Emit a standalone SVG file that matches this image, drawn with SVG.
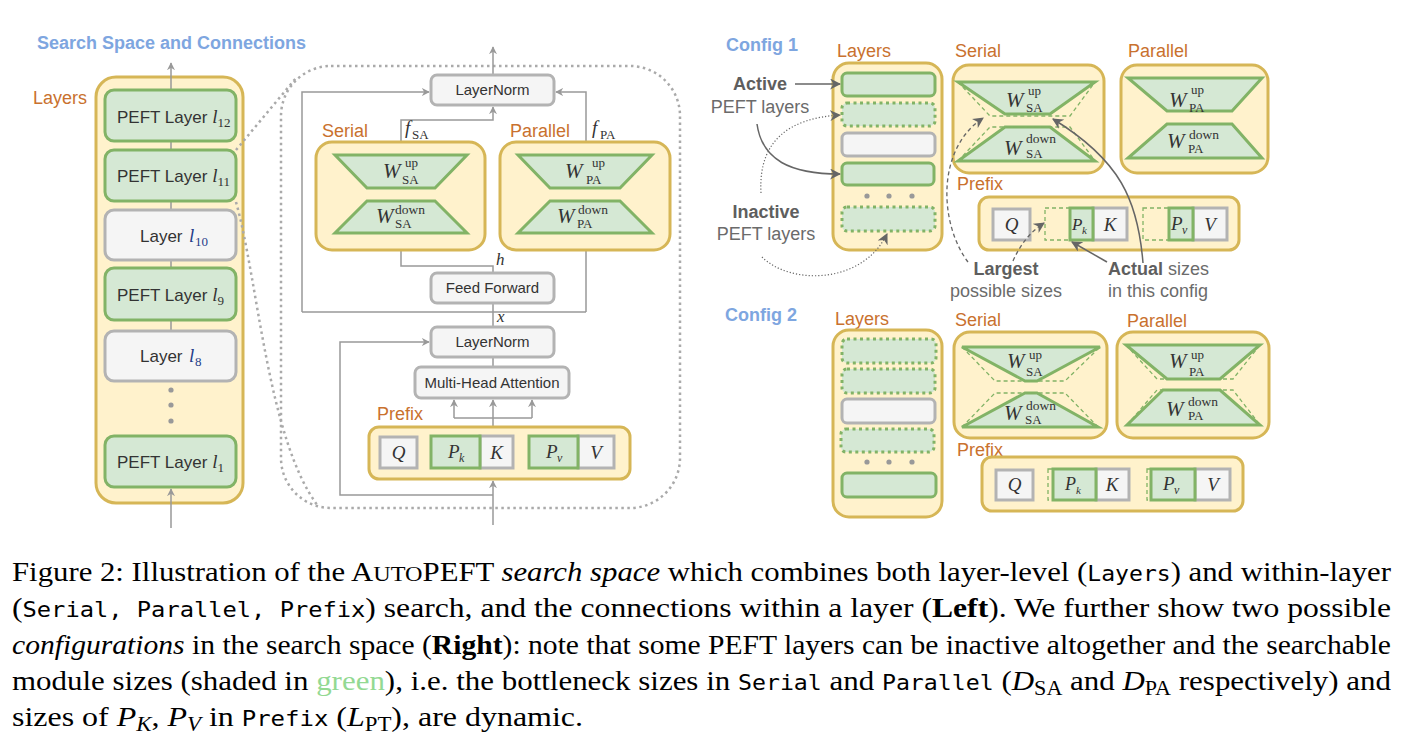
<svg xmlns="http://www.w3.org/2000/svg" width="1402" height="746" viewBox="0 0 1402 746">
<style>
.ybox{fill:#fff2cc;stroke:#d6b656;stroke-width:3}
.gbox{fill:#d5e8d4;stroke:#82b366;stroke-width:3}
.gdot{fill:#d5e8d4;stroke:#82b366;stroke-width:3;stroke-dasharray:3 3.5}
.xbox{fill:#f5f5f5;stroke:#b3b3b3;stroke-width:3}
.trap{fill:#d5e8d4;stroke:#82b366;stroke-width:3}
.dash{fill:none;stroke:#82b366;stroke-width:1.3;stroke-dasharray:4 3}
.conn{fill:none;stroke:#999;stroke-width:1.5}
.ann{fill:none;stroke:#666;stroke-width:1.5}
.annd{fill:none;stroke:#666;stroke-width:1.3;stroke-dasharray:4 3}
.anndot{fill:none;stroke:#666;stroke-width:1.2;stroke-dasharray:1.2 2}
.zoom{fill:none;stroke:#aaa;stroke-width:2.5;stroke-dasharray:2.5 3.5}
.dot{fill:#999}
text{font-family:"Liberation Sans",Arial,sans-serif}
.t{font-size:17px;fill:#333}
.t15{font-size:15px;fill:#333}
.org{font-size:18px;fill:#c9712e}
.blue{font-size:18px;font-weight:bold;fill:#7ea6e0}
.gray{font-size:18px;fill:#6b6b6b}
.m{font-family:"Liberation Serif","Times New Roman",serif;font-style:italic;fill:#333}
.r{font-family:"Liberation Serif","Times New Roman",serif;fill:#333}
.cap{font-family:"Liberation Serif","Times New Roman",serif;font-size:28px;fill:#000}
.mono{font-family:"DejaVu Sans Mono","Liberation Mono",monospace;font-size:21px}
.it{font-style:italic}
</style>
<defs>
<marker id="ag" viewBox="0 0 10 10" refX="9" refY="5" markerWidth="8" markerHeight="8" markerUnits="userSpaceOnUse" orient="auto"><path d="M0,0 L10,5 L0,10 L3,5 z" fill="#999"/></marker>
<marker id="ad" viewBox="0 0 10 10" refX="9" refY="5" markerWidth="11" markerHeight="11" markerUnits="userSpaceOnUse" orient="auto"><path d="M0,0 L10,5 L0,10 L3,5 z" fill="#666"/></marker>
</defs>

<!-- LEFT PANEL -->
<text id="title-left" class="blue" x="37" y="49">Search Space and Connections</text>

<g id="layers-left">
<text class="org" x="33" y="104">Layers</text>
<rect class="ybox" x="96" y="77" width="147" height="426" rx="20"/>
</g>
<g id="zoom-frame">
<rect class="zoom" x="281" y="66" width="399" height="442" rx="50"/>
<path class="zoom" d="M236,150 L296,78"/>
<path class="zoom" d="M236,202 C258,280 268,440 318,506"/>
</g>

<g id="connectors">
<path class="conn" d="M171,90 V63" marker-end="url(#ag)"/>
<path class="conn" d="M171,528 V489" marker-end="url(#ag)"/>
<path class="conn" d="M171,141 V150 M171,201 V210 M171,260 V268 M171,320 V331"/>
<path class="conn" d="M493,75 V47" marker-end="url(#ag)"/>
<path class="conn" d="M302,312 V92 H429" marker-end="url(#ag)"/>
<path class="conn" d="M586,312 V92 H556" marker-end="url(#ag)"/>
<path class="conn" d="M302,312 H586 M493,303 V327 M493,357 V367"/>
<path class="conn" d="M493,273 V266 H401 V120 H493 V107" marker-end="url(#ag)"/>
<path class="conn" d="M493,427 V400" marker-end="url(#ag)"/>
<path class="conn" d="M454,418 H532"/>
<path class="conn" d="M454,418 V400" marker-end="url(#ag)"/>
<path class="conn" d="M532,418 V400" marker-end="url(#ag)"/>
<path class="conn" d="M493,525 V481" marker-end="url(#ag)"/>
<path class="conn" d="M493,495 H340 V342 H429" marker-end="url(#ag)"/>
</g>

<g id="l12"><rect class="gbox" x="105" y="90" width="131" height="51" rx="9"/>
<text class="t" x="117" y="123">PEFT Layer <tspan class="m" font-size="19">l</tspan><tspan class="r" font-size="13" dy="4">12</tspan></text></g>
<g id="l11"><rect class="gbox" x="105" y="150" width="131" height="51" rx="9"/>
<text class="t" x="117" y="182">PEFT Layer <tspan class="m" font-size="19">l</tspan><tspan class="r" font-size="13" dy="4">11</tspan></text></g>
<g id="l10"><rect class="xbox" x="105" y="210" width="131" height="50" rx="9"/>
<text class="t" x="140" y="242">Layer</text><text class="m" x="189" y="242" font-size="19" style="fill:#1f3c88">l</text><text class="r" x="195" y="246" font-size="13" style="fill:#1f3c88">10</text></g>
<g id="l9"><rect class="gbox" x="105" y="268" width="131" height="52" rx="9"/>
<text class="t" x="117" y="301">PEFT Layer <tspan class="m" font-size="19">l</tspan><tspan class="r" font-size="13" dy="4">9</tspan></text></g>
<g id="l8"><rect class="xbox" x="105" y="331" width="131" height="50" rx="9"/>
<text class="t" x="140" y="362">Layer</text><text class="m" x="189" y="362" font-size="19" style="fill:#1f3c88">l</text><text class="r" x="195" y="366" font-size="13" style="fill:#1f3c88">8</text></g>
<g id="dots-left"><circle class="dot" cx="171" cy="390" r="2.6"/><circle class="dot" cx="171" cy="405" r="2.6"/><circle class="dot" cx="171" cy="421" r="2.6"/></g>
<g id="l1"><rect class="gbox" x="105" y="436" width="131" height="51" rx="9"/>
<text class="t" x="117" y="468">PEFT Layer <tspan class="m" font-size="19">l</tspan><tspan class="r" font-size="13" dy="4">1</tspan></text></g>

<g id="layernorm-top"><rect class="xbox" x="431" y="75" width="123" height="30" rx="6"/>
<text class="t15" x="492.5" y="95" text-anchor="middle">LayerNorm</text></g>

<g id="serial-left">
<text class="org" x="322" y="137">Serial</text>
<rect class="ybox" x="316" y="142" width="169" height="108" rx="16"/>
<polygon class="trap" points="335,155 467,155 435,188 367,188"/>
<polygon class="trap" points="367,201 435,201 467,233 335,233"/>
<text class="m" x="383" y="178" font-size="21">W</text><text class="r" x="405" y="167" font-size="13">up</text><text class="r" x="402" y="184" font-size="13">SA</text>
<text class="m" x="376" y="223" font-size="21">W</text><text class="r" x="395" y="214" font-size="13.5">down</text><text class="r" x="395" y="228" font-size="13">SA</text>
<text class="m" x="405" y="134" font-size="19">f</text><text class="r" x="412" y="139" font-size="13">SA</text>
</g>
<g id="parallel-left">
<text class="org" x="510" y="137">Parallel</text>
<rect class="ybox" x="500" y="142" width="170" height="108" rx="16"/>
<polygon class="trap" points="518,155 652,155 620,188 550,188"/>
<polygon class="trap" points="550,201 620,201 652,233 518,233"/>
<text class="m" x="565" y="178" font-size="21">W</text><text class="r" x="592" y="167" font-size="13">up</text><text class="r" x="586" y="184" font-size="13">PA</text>
<text class="m" x="557" y="223" font-size="21">W</text><text class="r" x="578" y="214" font-size="13.5">down</text><text class="r" x="577" y="228" font-size="13">PA</text>
<text class="m" x="592" y="134" font-size="19">f</text><text class="r" x="600" y="139" font-size="13">PA</text>
</g>
<g id="labels-hx">
<text class="m" x="496" y="265" font-size="17">h</text>
<text class="m" x="497" y="322" font-size="17">x</text>
</g>
<g id="feedforward"><rect class="xbox" x="431" y="273" width="123" height="30" rx="6"/>
<text class="t15" x="492.5" y="293" text-anchor="middle">Feed Forward</text></g>
<g id="layernorm-bottom"><rect class="xbox" x="431" y="327" width="123" height="30" rx="6"/>
<text class="t15" x="492.5" y="347" text-anchor="middle">LayerNorm</text></g>
<g id="mha"><rect class="xbox" x="415" y="367" width="154" height="31" rx="6"/>
<text class="t15" x="492" y="388" text-anchor="middle" font-size="14.5">Multi-Head Attention</text></g>
<g id="prefix-left">
<text class="org" x="377" y="420">Prefix</text>
<rect class="ybox" x="369" y="427" width="261" height="52" rx="10"/>
<rect class="xbox" x="380" y="437" width="37" height="31"/>
<text class="m" x="398.5" y="459" font-size="19" text-anchor="middle">Q</text>
<rect class="xbox" x="480" y="436" width="33" height="32"/>
<rect class="gbox" x="431" y="436" width="49" height="32"/>
<text class="m" x="448" y="458" font-size="19">P</text><text class="m" x="459" y="462" font-size="12">k</text>
<text class="m" x="496.5" y="459" font-size="19" text-anchor="middle">K</text>
<rect class="xbox" x="578" y="436" width="36" height="32"/>
<rect class="gbox" x="529" y="436" width="49" height="32"/>
<text class="m" x="546" y="458" font-size="19">P</text><text class="m" x="557" y="462" font-size="12">v</text>
<text class="m" x="596" y="459" font-size="19" text-anchor="middle">V</text>
</g>

<!-- CONFIG 1 -->
<text id="config1-title" class="blue" x="726" y="51">Config 1</text>
<g id="c1-layers">
<text class="org" x="837" y="57">Layers</text>
<rect class="ybox" x="833" y="63" width="109" height="187" rx="16"/>
<rect class="gbox" x="842" y="73" width="93" height="23" rx="5"/>
<rect class="gdot" x="842" y="103" width="93" height="23" rx="5"/>
<rect class="xbox" x="842" y="133" width="93" height="23" rx="5"/>
<rect class="gbox" x="842" y="163" width="92" height="22" rx="5"/>
<circle class="dot" cx="867" cy="196" r="2.6"/><circle class="dot" cx="889" cy="196" r="2.6"/><circle class="dot" cx="912" cy="196" r="2.6"/>
<rect class="gdot" x="842" y="207" width="93" height="24" rx="5"/>
</g>
<g id="c1-annotations">
<text class="gray" x="760" y="90" text-anchor="middle" font-weight="bold" style="fill:#5e5e5e">Active</text>
<text class="gray" x="760" y="113" text-anchor="middle">PEFT layers</text>
<text class="gray" x="766" y="218" text-anchor="middle" font-weight="bold" style="fill:#5e5e5e">Inactive</text>
<text class="gray" x="766" y="240" text-anchor="middle">PEFT layers</text>
<text class="gray" x="1006" y="275" text-anchor="middle" font-weight="bold" style="fill:#5e5e5e">Largest</text>
<text class="gray" x="1006" y="297" text-anchor="middle">possible sizes</text>
<text class="gray" x="1108" y="275"><tspan font-weight="bold" style="fill:#5e5e5e">Actual</tspan> sizes</text>
<text class="gray" x="1108" y="297">in this config</text>
</g>
<g id="c1-serial">
<text class="org" x="955" y="57">Serial</text>
<rect class="ybox" x="953" y="65" width="151" height="108" rx="16"/>
<polygon class="trap" points="958,82 1095,82 1050,114 1005,114"/>
<polygon class="trap" points="1005,127 1050,127 1095,161 958,161"/>
<polyline class="dash" points="958,82 990,116 1070,116 1095,82"/>
<polyline class="dash" points="958,161 990,127 1070,127 1095,161"/>
<text class="m" x="1006" y="107" font-size="21">W</text><text class="r" x="1028" y="95" font-size="13">up</text><text class="r" x="1026" y="112" font-size="13">SA</text>
<text class="m" x="1004" y="155" font-size="21">W</text><text class="r" x="1026" y="143" font-size="13.5">down</text><text class="r" x="1026" y="158" font-size="13">SA</text>
</g>
<g id="c1-parallel">
<text class="org" x="1128" y="57">Parallel</text>
<rect class="ybox" x="1121" y="65" width="147" height="108" rx="16"/>
<polygon class="trap" points="1128,78 1262,78 1232,111 1167,111"/>
<polygon class="trap" points="1167,124 1232,124 1262,158 1128,158"/>
<text class="m" x="1169" y="107" font-size="21">W</text><text class="r" x="1191" y="94" font-size="13">up</text><text class="r" x="1189" y="112" font-size="13">PA</text>
<text class="m" x="1167" y="148" font-size="21">W</text><text class="r" x="1189" y="139" font-size="13.5">down</text><text class="r" x="1188" y="153" font-size="13">PA</text>
</g>
<g id="c1-prefix">
<text class="org" x="957" y="190">Prefix</text>
<rect class="ybox" x="979" y="197" width="260" height="53" rx="10"/>
<rect class="xbox" x="993" y="209" width="37" height="31"/>
<text class="m" x="1011.5" y="231" font-size="19" text-anchor="middle">Q</text>
<rect class="dash" x="1045" y="208" width="48" height="32"/>
<rect class="xbox" x="1093" y="208" width="34" height="32"/>
<rect class="gbox" x="1070" y="208" width="23" height="32"/>
<text class="m" x="1072" y="230" font-size="17">P</text><text class="m" x="1082" y="234" font-size="11">k</text>
<text class="m" x="1110" y="231" font-size="19" text-anchor="middle">K</text>
<rect class="dash" x="1143" y="208" width="50" height="32"/>
<rect class="xbox" x="1193" y="208" width="34" height="32"/>
<rect class="gbox" x="1169" y="208" width="24" height="32"/>
<text class="m" x="1171" y="230" font-size="19">P</text><text class="m" x="1182" y="234" font-size="12">v</text>
<text class="m" x="1210" y="231" font-size="19" text-anchor="middle">V</text>
</g>
<g id="c1-arrows">
<path class="ann" d="M795,84 H840" marker-end="url(#ad)"/>
<path class="ann" d="M757,124 C762,160 790,174 840,174" marker-end="url(#ad)"/>
<path class="anndot" d="M761,193 C758,140 790,118 840,115" marker-end="url(#ad)"/>
<path class="anndot" d="M762,257 C790,285 862,285 887,234" marker-end="url(#ad)"/>
<path class="annd" d="M968,262 C940,225 935,150 983,118" marker-end="url(#ad)"/>
<path class="annd" d="M1013,261 C1020,245 1030,232 1044,223" marker-end="url(#ad)"/>
<path class="ann" d="M1107,262 L1072,242" marker-end="url(#ad)"/>
<path class="ann" d="M1143,263 C1138,200 1120,160 1053,119" marker-end="url(#ad)"/>
</g>

<!-- CONFIG 2 -->
<text id="config2-title" class="blue" x="725" y="321">Config 2</text>
<g id="c2-layers">
<text class="org" x="835" y="325">Layers</text>
<rect class="ybox" x="833" y="330" width="109" height="187" rx="16"/>
<rect class="gdot" x="842" y="339" width="94" height="24" rx="5"/>
<rect class="gdot" x="842" y="369" width="93" height="24" rx="5"/>
<rect class="xbox" x="842" y="399" width="93" height="24" rx="5"/>
<rect class="gdot" x="841" y="429" width="93" height="23" rx="5"/>
<circle class="dot" cx="867" cy="462" r="2.6"/><circle class="dot" cx="889" cy="462" r="2.6"/><circle class="dot" cx="912" cy="462" r="2.6"/>
<rect class="gbox" x="842" y="473" width="94" height="24" rx="5"/>
</g>
<g id="c2-serial">
<text class="org" x="955" y="326">Serial</text>
<rect class="ybox" x="954" y="332" width="153" height="106" rx="16"/>
<polygon class="trap" points="962,347 1100,347 1037,381 1025,381"/>
<polygon class="trap" points="1025,393 1037,393 1098,427 962,427"/>
<polyline class="dash" points="962,347 995,381 1065,381 1100,347"/>
<polyline class="dash" points="962,427 995,393 1065,393 1098,427"/>
<text class="m" x="1007" y="368" font-size="21">W</text><text class="r" x="1029" y="359" font-size="13">up</text><text class="r" x="1026" y="376" font-size="13">SA</text>
<text class="m" x="1004" y="420" font-size="21">W</text><text class="r" x="1026" y="410" font-size="13.5">down</text><text class="r" x="1025" y="424" font-size="13">SA</text>
</g>
<g id="c2-parallel">
<text class="org" x="1127" y="327">Parallel</text>
<rect class="ybox" x="1117" y="332" width="152" height="106" rx="16"/>
<polygon class="trap" points="1126,345 1260,345 1220,379 1167,379"/>
<polygon class="trap" points="1163,390 1220,390 1260,425 1127,425"/>
<polyline class="dash" points="1126,345 1157,379 1233,379 1260,345"/>
<polyline class="dash" points="1127,425 1157,390 1233,390 1260,425"/>
<text class="m" x="1169" y="368" font-size="21">W</text><text class="r" x="1191" y="359" font-size="13">up</text><text class="r" x="1189" y="376" font-size="13">PA</text>
<text class="m" x="1166" y="416" font-size="21">W</text><text class="r" x="1188" y="406" font-size="13.5">down</text><text class="r" x="1188" y="420" font-size="13">PA</text>
</g>
<g id="c2-prefix">
<text class="org" x="957" y="456">Prefix</text>
<rect class="ybox" x="982" y="457" width="261" height="54" rx="10"/>
<rect class="xbox" x="996" y="470" width="37" height="30"/>
<text class="m" x="1014.5" y="491" font-size="19" text-anchor="middle">Q</text>
<rect class="dash" x="1048" y="469" width="48" height="31"/>
<rect class="xbox" x="1096" y="469" width="33" height="31"/>
<rect class="gbox" x="1053" y="469" width="43" height="31"/>
<text class="m" x="1065" y="490" font-size="18">P</text><text class="m" x="1076" y="494" font-size="11">k</text>
<text class="m" x="1112" y="491" font-size="19" text-anchor="middle">K</text>
<rect class="dash" x="1147" y="469" width="48" height="31"/>
<rect class="xbox" x="1195" y="469" width="35" height="31"/>
<rect class="gbox" x="1151" y="469" width="44" height="31"/>
<text class="m" x="1163" y="490" font-size="19">P</text><text class="m" x="1174" y="494" font-size="12">v</text>
<text class="m" x="1213" y="491" font-size="19" text-anchor="middle">V</text>
</g>

<!-- CAPTION -->
<g id="caption">
<text class="cap" x="12" y="581" textLength="1379" lengthAdjust="spacingAndGlyphs">Figure 2: Illustration of the A<tspan font-size="22">UTO</tspan>PEFT <tspan class="it">search space</tspan> which combines both layer-level (<tspan class="mono">Layers</tspan>) and within-layer</text>
<text class="cap" x="12" y="617" textLength="1379" lengthAdjust="spacingAndGlyphs">(<tspan class="mono">Serial, Parallel, Prefix</tspan>) search, and the connections within a layer (<tspan font-weight="bold">Left</tspan>). We further show two possible</text>
<text class="cap" x="12" y="654" textLength="1379" lengthAdjust="spacingAndGlyphs"><tspan class="it">configurations</tspan> in the search space (<tspan font-weight="bold">Right</tspan>): note that some PEFT layers can be inactive altogether and the searchable</text>
<text class="cap" x="12" y="690" textLength="1379" lengthAdjust="spacingAndGlyphs">module sizes (shaded in <tspan fill="#93d993">green</tspan>), i.e. the bottleneck sizes in <tspan class="mono">Serial</tspan> and <tspan class="mono">Parallel</tspan> (<tspan class="it">D</tspan><tspan font-size="20" dy="5">SA</tspan><tspan dy="-5"> and </tspan><tspan class="it">D</tspan><tspan font-size="20" dy="5">PA</tspan><tspan dy="-5"> respectively) and</tspan></text>
<text class="cap" x="12" y="726" textLength="571" lengthAdjust="spacingAndGlyphs">sizes of <tspan class="it">P</tspan><tspan class="it" font-size="20" dy="5">K</tspan><tspan dy="-5">, </tspan><tspan class="it">P</tspan><tspan class="it" font-size="20" dy="5">V</tspan><tspan dy="-5"> in </tspan><tspan class="mono">Prefix</tspan> (<tspan class="it">L</tspan><tspan font-size="20" dy="5">PT</tspan><tspan dy="-5">), are dynamic.</tspan></text>
</g>
</svg>
